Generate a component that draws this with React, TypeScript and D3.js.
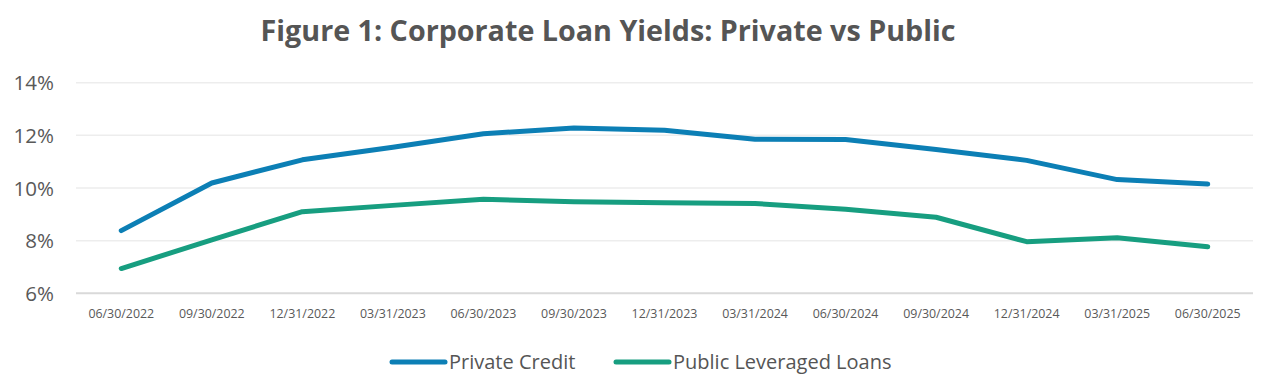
import React from "react";
import * as d3 from "d3";

const categories = [
  "06/30/2022", "09/30/2022", "12/31/2022", "03/31/2023", "06/30/2023", "09/30/2023",
  "12/31/2023", "03/31/2024", "06/30/2024", "09/30/2024", "12/31/2024", "03/31/2025", "06/30/2025",
];
const privateCredit = [8.38, 10.19, 11.07, 11.55, 12.06, 12.28, 12.19, 11.85, 11.84, 11.46, 11.05, 10.32, 10.15];
const publicLoans = [6.94, 8.03, 9.1, 9.34, 9.57, 9.48, 9.44, 9.41, 9.19, 8.89, 7.96, 8.11, 7.77];
const yTicks = [6, 8, 10, 12, 14];
const seriesNames = ["Private Credit", "Public Leveraged Loans"];
const colors = ["#0C7FB5", "#179E80"];

const W = 1262;
const H = 380;
const FONT = "'Open Sans', 'DejaVu Sans', sans-serif";

export default function App() {
  const x = d3.scaleBand<string>().domain(categories).range([76, 1253]);
  const y = d3.scaleLinear().domain([6, 14]).range([293.3, 82.7]);
  const line = d3
    .line<number>()
    .x((_, i) => (x(categories[i]) as number) + x.bandwidth() / 2)
    .y((d) => y(d));
  const series = [privateCredit, publicLoans];

  return (
    <svg
      width={W}
      height={H}
      style={{ position: "absolute", left: 0, top: 0, background: "#fff" }}
      fontFamily={FONT}
    >
      <rect width={W} height={H} fill="#fff" />
      <text x={608} y={40.5} textAnchor="middle" fontSize={28.7} fontWeight={700} fill="#555555">
        Figure 1: Corporate Loan Yields: Private vs Public
      </text>
      {yTicks.map((t) => (
        <g key={t}>
          <line
            x1={76}
            x2={1253}
            y1={y(t)}
            y2={y(t)}
            stroke={t === 6 ? "#D9D9D9" : "#EDEDED"}
            strokeWidth={t === 6 ? 2 : 1.5}
          />
          <text x={54} y={y(t) + 7.5} textAnchor="end" fontSize={20.5} fill="#595959">
            {t}%
          </text>
        </g>
      ))}
      {categories.map((c) => (
        <text
          key={c}
          x={(x(c) as number) + x.bandwidth() / 2}
          y={318}
          textAnchor="middle"
          fontSize={12.4}
          fill="#595959"
        >
          {c}
        </text>
      ))}
      {series.map((s, i) => (
        <path
          key={i}
          d={line(s) || ""}
          fill="none"
          stroke={colors[i]}
          strokeWidth={5}
          strokeLinejoin="round"
          strokeLinecap="round"
        />
      ))}
      {seriesNames.map((n, i) => {
        const lx = i === 0 ? 392 : 616;
        return (
          <g key={n}>
            <line x1={lx} x2={lx + 53} y1={362} y2={362} stroke={colors[i]} strokeWidth={5} strokeLinecap="round" />
            <text x={lx + 57} y={369} fontSize={20} fill="#555555">
              {n}
            </text>
          </g>
        );
      })}
    </svg>
  );
}
